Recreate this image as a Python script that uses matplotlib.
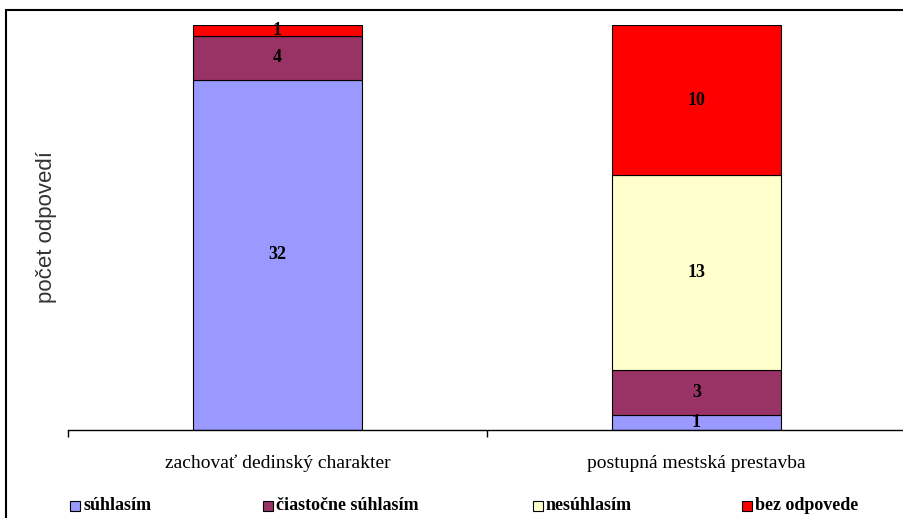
import matplotlib.pyplot as plt
import numpy as np
from matplotlib.patches import Rectangle

categories = ["zachovať dedinský charakter", "postupná mestská prestavba"]
series = ["súhlasím", "čiastočne súhlasím", "nesúhlasím", "bez odpovede"]
suhlasim = [32, 1]
ciastocne = [4, 3]
nesuhlasim = [0, 13]
bez_odpovede = [1, 10]
colors = ["#9999FF", "#993366", "#FFFFCC", "#FF0000"]

plt.rcParams['font.family'] = ['Liberation Serif', 'DejaVu Serif']

W, H = 904, 518
fig = plt.figure(figsize=(W / 100, H / 100), dpi=100)
ax = fig.add_axes([68 / W, 1 - 430 / H, 838 / W, 405 / H])

data = np.array([suhlasim, ciastocne, nesuhlasim, bez_odpovede], dtype=float)
totals = data.sum(axis=0)
pct = data / totals
x = np.arange(len(categories))
bottom = np.zeros(len(categories))
for i, name in enumerate(series):
    ax.bar(x, pct[i], 0.403, bottom=bottom, color=colors[i], edgecolor="black",
           linewidth=0.8, label=name)
    for j in range(len(categories)):
        if data[i, j] > 0:
            ax.text(x[j], bottom[j] + pct[i, j] / 2, f"{int(data[i, j])}", ha="center",
                    va="center", fontsize=13, fontweight="bold")
    bottom += pct[i]

ax.set_xlim(-0.5, 1.5)
ax.set_ylim(0, 1)
for s in ["top", "right", "left"]:
    ax.spines[s].set_visible(False)
ax.spines["bottom"].set_linewidth(1)
ax.set_yticks([])
ax.set_xticks([-0.5, 0.5, 1.5])
ax.set_xticklabels([])
ax.set_xticks(x, minor=True)
ax.set_xticklabels(categories, minor=True, fontsize=14)
ax.tick_params(axis="x", which="major", direction="out", length=5, width=1)
ax.tick_params(axis="x", which="minor", length=0, pad=18)
ax.set_ylabel("počet odpovedí", fontsize=16, labelpad=8, color="#333333",
              family=["Liberation Sans", "DejaVu Sans"], fontweight="light")

# legend across the bottom
leg_x = [70, 263, 533, 742]
for i, name in enumerate(series):
    fig.patches.append(Rectangle((leg_x[i] / W, 1 - 511 / H), 10 / W, 10 / H,
                                 transform=fig.transFigure, facecolor=colors[i],
                                 edgecolor="black", linewidth=0.8))
    fig.text((leg_x[i] + 13) / W, 1 - 506 / H, name, fontsize=13, va="center",
             fontweight="bold")

# chart frame
fig.patches.append(Rectangle((6 / W, -0.05), 1.1, 1 - 10 / H + 0.05,
                             transform=fig.transFigure, fill=False,
                             edgecolor="black", linewidth=1.5))

fig.savefig("out.png", dpi=100)
